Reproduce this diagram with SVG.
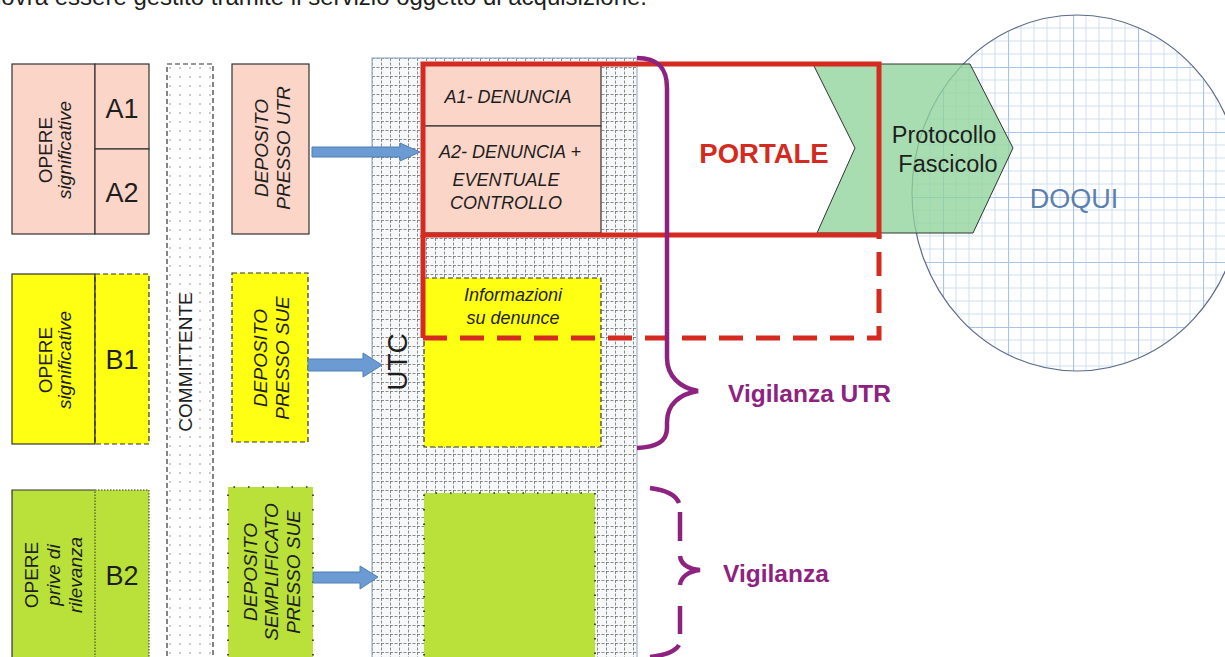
<svg xmlns="http://www.w3.org/2000/svg" width="1225" height="657" viewBox="0 0 1225 657">
<defs>
<style>
text{font-family:"Liberation Sans",Arial,sans-serif;fill:#1e1e1e}
.it{font-style:italic}
.box{stroke:#333;stroke-width:1.2}
.pink{fill:#fbd5c8}
.yel{fill:#ffff14}
.grn{fill:#b9e13a}
.dash{stroke:#333;stroke-width:1.2;stroke-dasharray:5 3;fill:none}
.dot{stroke:#222;stroke-width:1.6;stroke-dasharray:1.5 13;fill:none}
.arrow{fill:#6b9bd2;stroke:#4f7fb8;stroke-width:1}
.red{fill:none;stroke:#d42a20;stroke-width:5}
.purple{fill:none;stroke:#8e2280;stroke-width:4.5}
.vig{font-weight:bold;fill:#8e2280;font-size:24.5px}
</style>
<pattern id="dots" patternUnits="userSpaceOnUse" width="10" height="9" x="167" y="64">
<rect width="10" height="9" fill="#ffffff"/>
<circle cx="3" cy="4" r="0.8" fill="#8a8a8a"/>
</pattern>
<pattern id="utcgrid" patternUnits="userSpaceOnUse" width="9" height="9" x="372" y="58">
<rect width="9" height="9" fill="#f7f8fa"/>
<line x1="0" y1="0.5" x2="9" y2="0.5" stroke="#6e6e6e" stroke-width="0.8" stroke-dasharray="3 1.5"/>
<line x1="0.5" y1="0" x2="0.5" y2="9" stroke="#6e6e6e" stroke-width="0.8" stroke-dasharray="3 1.5"/>
</pattern>
<pattern id="doqgrid" patternUnits="userSpaceOnUse" width="65" height="65" x="1073" y="132">
<rect width="65" height="65" fill="#ffffff"/>
<path d="M13 0V65M26 0V65M39 0V65M52 0V65M0 13H65M0 26H65M0 39H65M0 52H65" stroke="#cfe0f2" stroke-width="1"/>
<path d="M0.5 0V65M0 0.5H65" stroke="#a9c4e6" stroke-width="1.2"/>
</pattern>
<clipPath id="circ"><ellipse cx="1077" cy="193" rx="165" ry="178"/></clipPath>
</defs>

<text id="toptext" x="-12" y="5" font-size="24">dovrà essere gestito tramite il servizio oggetto di acquisizione.</text>

<!-- DOQUI -->
<g id="doqui">
<rect x="900" y="0" width="340" height="380" fill="url(#doqgrid)" clip-path="url(#circ)"/>
<ellipse cx="1077" cy="193" rx="165" ry="178" fill="none" stroke="#5d6b8a" stroke-width="1.2"/>
<text x="1074" y="208" font-size="27" text-anchor="middle" style="fill:#5b7fb3">DOQUI</text>
</g>

<!-- UTC column -->
<g id="utc">
<rect x="372" y="58" width="265" height="610" fill="url(#utcgrid)" stroke="#9bb3cb" stroke-width="1.2"/>
<text transform="translate(407,362) rotate(-90)" font-size="28" text-anchor="middle">UTC</text>
</g>

<!-- Committente -->
<g id="committente">
<rect x="167" y="64" width="46" height="610" style="fill:url(#dots)"/>
<rect x="167" y="64" width="46" height="610" class="dash"/>
<text transform="translate(192,362) rotate(-90)" font-size="19" text-anchor="middle">COMMITTENTE</text>
</g>

<!-- Row A -->
<g id="opere-a">
<rect x="12" y="64" width="83" height="170" class="box pink"/>
<text transform="translate(52,150) rotate(-90)" font-size="19" text-anchor="middle">OPERE</text>
<text class="it" transform="translate(71,150) rotate(-90)" font-size="19" text-anchor="middle">significative</text>
</g>
<g id="a1">
<rect x="95" y="64" width="54" height="85" class="box pink"/>
<text x="122" y="118" font-size="27" text-anchor="middle">A1</text>
</g>
<g id="a2">
<rect x="95" y="149" width="54" height="85" class="box pink"/>
<text x="122" y="202" font-size="27" text-anchor="middle">A2</text>
</g>
<g id="deposito-utr">
<rect x="232" y="64" width="77" height="170" class="box pink"/>
<text class="it" transform="translate(268,148) rotate(-90)" font-size="19" text-anchor="middle">DEPOSITO</text>
<text class="it" transform="translate(290,148) rotate(-90)" font-size="19" text-anchor="middle">PRESSO UTR</text>
</g>

<!-- Row B -->
<g id="opere-b">
<rect x="12" y="274" width="83" height="170" class="box yel"/>
<text transform="translate(52,360) rotate(-90)" font-size="19" text-anchor="middle">OPERE</text>
<text class="it" transform="translate(71,360) rotate(-90)" font-size="19" text-anchor="middle">significative</text>
</g>
<g id="b1">
<rect x="95" y="274" width="54" height="170" class="yel"/>
<rect x="95" y="274" width="54" height="170" class="dash"/>
<line x1="95" y1="274" x2="95" y2="444" stroke="#333" stroke-width="1.2"/>
<text x="122" y="369" font-size="27" text-anchor="middle">B1</text>
</g>
<g id="deposito-sue">
<rect x="232" y="273" width="76" height="169" class="yel"/>
<rect x="232" y="273" width="76" height="169" class="dash"/>
<text class="it" transform="translate(267,358) rotate(-90)" font-size="19" text-anchor="middle">DEPOSITO</text>
<text class="it" transform="translate(289,358) rotate(-90)" font-size="19" text-anchor="middle">PRESSO SUE</text>
</g>

<!-- Row C -->
<g id="opere-c">
<rect x="12" y="490" width="83" height="180" class="grn"/>
<path d="M12 670V490H95" fill="none" stroke="#333" stroke-width="1.2"/>
<text transform="translate(38,575) rotate(-90)" font-size="19" text-anchor="middle">OPERE</text>
<text class="it" transform="translate(60,575) rotate(-90)" font-size="19" text-anchor="middle">prive di</text>
<text class="it" transform="translate(82,575) rotate(-90)" font-size="19" text-anchor="middle">rilevanza</text>
</g>
<g id="b2">
<rect x="95" y="490" width="54" height="180" class="grn"/>
<path d="M95 670V490H149V670" fill="none" stroke="#333" stroke-width="1" stroke-dasharray="1.5 1.5"/>
<text x="122" y="585" font-size="27" text-anchor="middle">B2</text>
</g>
<g id="deposito-semplificato">
<rect x="228" y="487" width="85" height="180" class="grn"/>
<path d="M228 670V487H313V670" class="dot"/>
<text class="it" transform="translate(257,572) rotate(-90)" font-size="19" text-anchor="middle">DEPOSITO</text>
<text class="it" transform="translate(278,572) rotate(-90)" font-size="19" text-anchor="middle">SEMPLIFICATO</text>
<text class="it" transform="translate(300,572) rotate(-90)" font-size="19" text-anchor="middle">PRESSO SUE</text>
</g>

<!-- UTC inner boxes -->
<g id="denuncia-a1">
<rect x="424" y="65" width="177" height="61" class="box pink"/>
<text class="it" x="508" y="103" font-size="18" text-anchor="middle">A1- DENUNCIA</text>
</g>
<g id="denuncia-a2">
<rect x="424" y="126" width="177" height="107" class="box pink"/>
<text class="it" x="510" y="158" font-size="18" text-anchor="middle">A2- DENUNCIA +</text>
<text class="it" x="506" y="186" font-size="18" text-anchor="middle">EVENTUALE</text>
<text class="it" x="506" y="209" font-size="18" text-anchor="middle">CONTROLLO</text>
</g>
<g id="informazioni">
<rect x="424" y="278" width="177" height="169" class="yel"/>
<rect x="424" y="278" width="177" height="169" class="dash"/>
<text class="it" x="513" y="301" font-size="18" text-anchor="middle">Informazioni</text>
<text class="it" x="513" y="324" font-size="18" text-anchor="middle">su denunce</text>
</g>
<g id="utc-c">
<rect x="424" y="493" width="171" height="180" class="grn"/>
<path d="M424 670V493H595V670" class="dot"/>
</g>

<!-- Protocollo chevron -->
<g id="protocollo">
<polygon points="813,64 970,64 1013,148 973,233 817,233 855,148" fill="#8fd39b" fill-opacity="0.78" stroke="#333" stroke-width="1"/>
<text x="944" y="143" font-size="23.5" text-anchor="middle">Protocollo</text>
<text x="948" y="172" font-size="23.5" text-anchor="middle">Fascicolo</text>
</g>

<!-- Portale -->
<g id="portale">
<path d="M423 64H879V235H423Z" class="red"/>
<path d="M423 235V338" class="red"/>
<path d="M423 338H879V235" class="red" stroke-dasharray="24 13"/>
<text x="764" y="163" font-size="27.5" font-weight="bold" text-anchor="middle" style="fill:#d42a20">PORTALE</text>
</g>

<!-- Connectors -->
<g id="connectors">
<polygon class="arrow" points="312,147 400,147 400,143 420,152 400,161 400,157 312,157"/>
<polygon class="arrow" points="308,359 363,359 363,353 382,365 363,377 363,371 308,371"/>
<polygon class="arrow" points="313,572 360,572 360,566 378,577 360,589 360,583 313,583"/>
</g>

<!-- Vigilanza -->
<g id="vigilanza-utr">
<path class="purple" d="M637 58C658 58 667 68 667 88L667 358C667 376 680 388 698 391C680 394 667 404 667 422L667 428C667 442 656 447 637 448"/>
<text class="vig" x="728" y="402">Vigilanza UTR</text>
</g>
<g id="vigilanza">
<path class="purple" d="M650 488C665 490 676 495 679 503M680 512L680 541M680 556C681 565 690 569 700 570C690 571 681 576 680 585M680 606L680 634M679 645C675 652 665 655 650 657"/>
<text class="vig" x="723" y="582">Vigilanza</text>
</g>
</svg>
